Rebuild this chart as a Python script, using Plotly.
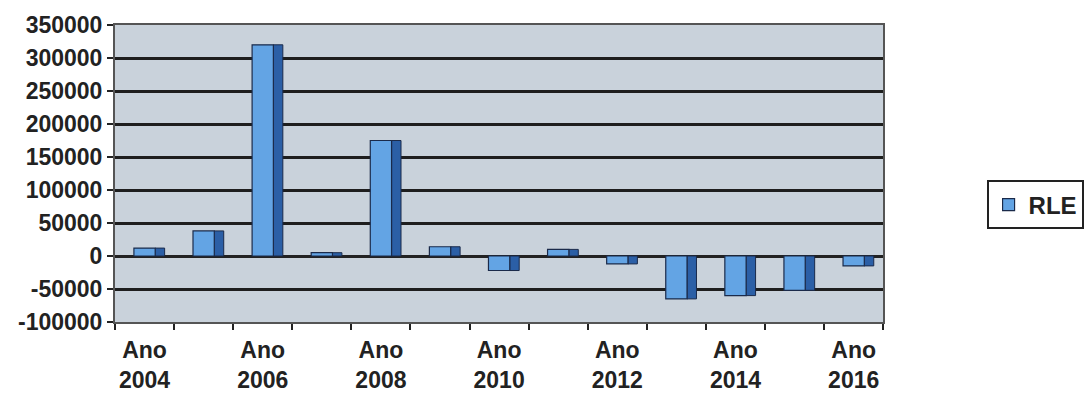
import plotly.graph_objects as go

years = ["2004", "2005", "2006", "2007", "2008", "2009", "2010",
         "2011", "2012", "2013", "2014", "2015", "2016"]
rle = [12000, 38000, 320000, 5000, 175000, 14000, -22000,
       10000, -12000, -65000, -60000, -52000, -15000]
y_ticks = [-100000, -50000, 0, 50000, 100000, 150000, 200000, 250000, 300000, 350000]

cats = ["Ano " + y for y in years]
ticktext = [("<b>Ano<br>%s</b>" % y) if i % 2 == 0 else "" for i, y in enumerate(years)]

fig = go.Figure()
# side face (depth effect)
fig.add_trace(go.Bar(
    x=cats, y=rle, width=0.16, offset=0.18,
    marker=dict(color="#2b5fa6", line=dict(color="#1a2a4a", width=1)),
    showlegend=False, hoverinfo="skip"))
# front face
fig.add_trace(go.Bar(
    x=cats, y=rle, width=0.36, offset=-0.18, name="RLE",
    marker=dict(color="#63a4e4", line=dict(color="#1a2a4a", width=1.2))))

W = 1084
left, right_edge = 115, 888
fig.update_layout(
    width=W, height=394,
    margin=dict(l=left, r=0, t=25, b=72),
    paper_bgcolor="white",
    plot_bgcolor="#c9d2db",
    barmode="overlay",
    font=dict(family="Liberation Sans, Arial, sans-serif", color="#222222", size=20),
    legend=dict(x=(992 - left) / (W - left), y=0.394, xanchor="left", yanchor="middle",
                bordercolor="#222222", borderwidth=2, bgcolor="white",
                font=dict(size=24, weight="bold"), itemwidth=30,
                tracegroupgap=0),
    showlegend=True,
)
fig.update_xaxes(
    domain=[0, (right_edge - left) / (W - left)],
    type="category", tickmode="array", tickvals=cats, ticktext=ticktext,
    tickson="boundaries", ticks="outside", ticklen=6, tickwidth=2, tickcolor="#222222",
    showgrid=False, showline=True, linecolor="#555555", linewidth=2, mirror=True,
    range=[-0.5, len(years) - 0.5], tickfont=dict(size=23),
    tickangle=0, automargin=False, ticklabelstandoff=6,
)
fig.update_yaxes(
    range=[-100000, 350000], tickmode="array", tickvals=y_ticks,
    ticktext=[str(v) for v in y_ticks],
    ticks="outside", ticklen=6, tickwidth=2, tickcolor="#222222",
    tickfont=dict(size=23, weight="bold"), automargin=False,
    showgrid=True, gridcolor="#1e1e1e", gridwidth=2.5,
    zeroline=True, zerolinecolor="#222222", zerolinewidth=3,
    showline=True, linecolor="#555555", linewidth=2, mirror=True,
)

fig.write_html("out.html")
